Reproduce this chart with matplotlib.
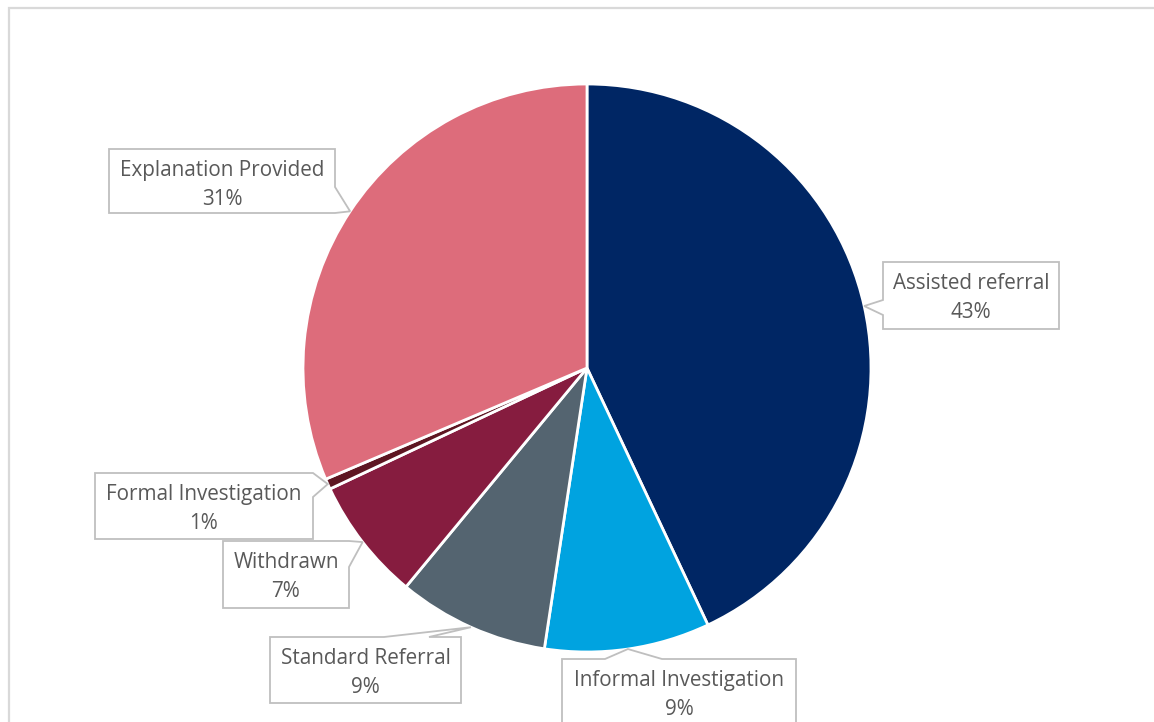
import numpy as np
import matplotlib
matplotlib.use("Agg")
import matplotlib.pyplot as plt
from matplotlib.patches import Polygon, Rectangle

categories = ["Assisted referral", "Informal Investigation", "Standard Referral",
              "Withdrawn", "Formal Investigation", "Explanation Provided"]
shares = [43.0, 9.4, 8.6, 7.0, 0.6, 31.4]
colors = ["#002664", "#00A3E0", "#546470", "#861C3F", "#5E1622", "#DD6C7B"]

W, H = 1154, 722
fig = plt.figure(figsize=(W / 100, H / 100), dpi=100)
ax = fig.add_axes([0, 0, 1, 1])
ax.set_xlim(0, W)
ax.set_ylim(0, H)
ax.set_aspect("equal")
ax.axis("off")

def P(x, y):
    return (x, H - y)

# chart frame (cropped on right/bottom)
ax.add_patch(Rectangle(P(9, 760), 1200, 752, fill=False, edgecolor="#D9D9D9",
                       linewidth=1.6, zorder=0))

cx, cy, R = 587, 368, 284
wedges, _ = ax.pie(shares, colors=colors, startangle=90, counterclock=False,
                   center=P(cx, cy), radius=R, frame=True,
                   wedgeprops=dict(edgecolor="white", linewidth=2.0))
ax.set_xlim(0, W)
ax.set_ylim(0, H)
ax.axis("off")

# callout layout: box (x0, y0, x1, y1) in pixels, side of the pointer base, base interval
layout = {
    "Assisted referral": ((883, 262, 1059, 329), "left", (300, 315)),
    "Informal Investigation": ((562, 659, 796, 740), "top", (605, 662)),
    "Standard Referral": ((270, 637, 461, 703), "top", (384, 429)),
    "Withdrawn": ((223, 541, 349, 608), "right", (541, 567)),
    "Formal Investigation": ((95, 473, 313, 539), "right", (473, 497)),
    "Explanation Provided": ((109, 149, 335, 213), "right", (187, 213)),
}

text_color = "#595959"
edge_color = "#BFBFBF"
fs = 14.9

for w, cat, v in zip(wedges, categories, shares):
    mid = np.deg2rad((w.theta1 + w.theta2) / 2)
    tip = (w.center[0] + R * np.cos(mid), w.center[1] + R * np.sin(mid))
    (x0, y0, x1, y1), side, (b0, b1) = layout[cat]
    tl, tr, br, bl = P(x0, y0), P(x1, y0), P(x1, y1), P(x0, y1)
    if side == "left":
        pts = [tl, tr, br, bl, P(x0, b1), tip, P(x0, b0)]
    elif side == "right":
        pts = [tl]
        if b0 > y0:
            pts.append(tr)
        pts += [P(x1, b0), tip, P(x1, b1)]
        if b1 < y1:
            pts.append(br)
        pts.append(bl)
    else:  # top
        pts = [tl, P(b0, y0), tip, P(b1, y0), tr, br, bl]
    ax.add_patch(Polygon(pts, closed=True, facecolor="white", edgecolor=edge_color,
                         linewidth=1.3, zorder=5, joinstyle="miter"))
    xc = (x0 + x1) / 2
    ytop = y0 + 21.5
    ax.text(*P(xc, ytop), cat, ha="center", va="center", fontsize=fs,
            color=text_color, family="Open Sans", zorder=6)
    ax.text(*P(xc, ytop + 29), f"{round(v)}%", ha="center", va="center", fontsize=fs,
            color=text_color, family="Open Sans", zorder=6)

fig.savefig("out.png", dpi=100)
